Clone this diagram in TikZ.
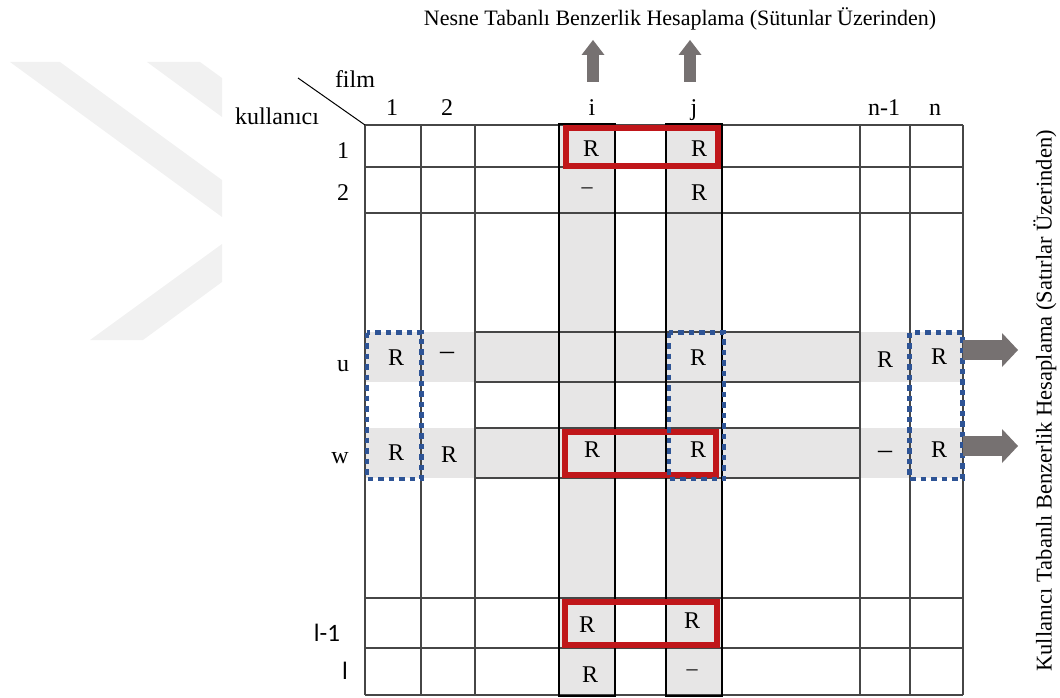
\documentclass[tikz,border=0pt]{standalone}
\usepackage{fontspec}
\setmainfont{Liberation Serif}
\newfontfamily\calfont{Carlito}
\usetikzlibrary{positioning,arrows.meta}

\definecolor{bandgray}{RGB}{231,230,230}
\definecolor{wmgray}{RGB}{241,241,241}
\definecolor{boxred}{RGB}{192,22,26}
\definecolor{dotblue}{RGB}{46,84,150}
\definecolor{arrowgray}{RGB}{118,113,113}
\definecolor{gridgray}{RGB}{70,70,70}

\tikzset{
  gridline/.style={draw=gridgray, line width=1.2pt},
  colbox/.style={draw=black, line width=2pt},
  redbox/.style={draw=boxred, line width=6pt},
  dotbox/.style={draw=dotblue, line width=4.5pt, dash pattern=on 5.5pt off 5pt},
  lbl/.style={font=\fontsize{24}{24}\selectfont, anchor=base, inner sep=0pt},
  cell/.style={lbl},
  dashcell/.style={font=\fontsize{28}{28}\selectfont, inner sep=0pt},
  smalldash/.style={font=\fontsize{22}{22}\selectfont, inner sep=0pt},
  sanslbl/.style={font=\calfont\fontsize{25}{25}\selectfont, anchor=base, inner sep=0pt},
  heading/.style={font=\fontsize{22}{22}\selectfont, anchor=base, inner sep=0pt},
  uparrow/.style={draw=arrowgray, line width=12pt, -{Triangle[width=23pt,length=15pt,line width=0pt]}},
  sidearrow/.style={draw=arrowgray, line width=20pt, -{Triangle[width=34pt,length=16pt,line width=0pt]}}
}

\begin{document}
\begin{tikzpicture}[x=1pt,y=-1pt]
  \useasboundingbox (0,0) rectangle (1060,698);

  % watermark
  \fill[wmgray] (10,62) -- (60,62) -- (222,180) -- (222,217) -- cycle;
  \fill[wmgray] (147,62) -- (200,62) -- (222,78) -- (222,117) -- cycle;
  \fill[wmgray] (90,340) -- (143,340) -- (222,282) -- (222,244) -- cycle;

  % shaded rows and columns
  \fill[bandgray] (365,332) rectangle (963,382);
  \fill[bandgray] (365,428) rectangle (963,478);
  \fill[bandgray] (559,124) rectangle (615,696);
  \fill[bandgray] (666,124) rectangle (722,696);

  % table
  \foreach \x in {365,421,475,559,615,666,722,860,910,963}
    \draw[gridline] (\x,125) -- (\x,695);
  \foreach \y in {125,167,213,598,648,695}
    \draw[gridline] (365,\y) -- (963,\y);
  \foreach \y in {332,382,428,478}
    \draw[gridline] (475,\y) -- (860,\y);
  \draw[colbox] (559,124) rectangle (615,696);
  \draw[colbox] (666,124) rectangle (722,696);

  % corner
  \coordinate (corner) at (365,125);
  \coordinate (slant) at (298,78);
  \draw[line width=1pt] (slant) -- (corner);
  \node[lbl] (film) at (355,88) {film};
  \node[lbl] (kullanici) at (277,125) {kullanıcı};

  % column labels
  \node[lbl] (c1) at (392,116) {1};
  \node[lbl] (c2) at (447,116) {2};
  \node[lbl] (ci) at (592,116) {i};
  \node[lbl] (cj) at (694,116) {j};
  \node[lbl] (cn1) at (884,116) {n-1};
  \node[lbl] (cn) at (935,116) {n};

  % row labels
  \node[lbl] (r1) at (343,158) {1};
  \node[lbl] (r2) at (343,200) {2};
  \node[lbl] (ru) at (343,371) {u};
  \node[lbl] (rw) at (340,463) {w};
  \node[sanslbl] (rl1) at (327,641) {l-1};
  \node[sanslbl] (rl) at (345,679) {l};

  % ratings
  \node[cell] (r1i) at (591,157) {R};
  \node[cell] (r1j) at (699,157) {R};
  \node[smalldash] (r2i) at (587,191) {–};
  \node[cell] (r2j) at (699,200) {R};
  \node[cell] (ru1) at (396,365) {R};
  \node[dashcell] (ru2) at (447,356) {–};
  \node[cell] (ruj) at (698,365) {R};
  \node[cell] (run1) at (885,367) {R};
  \node[cell] (run) at (939,364) {R};
  \node[cell] (rw1) at (396,460) {R};
  \node[cell] (rw2) at (449,462) {R};
  \node[cell] (rwi) at (592,457) {R};
  \node[cell] (rwj) at (698,457) {R};
  \node[dashcell] (rwn1) at (885,455) {–};
  \node[cell] (rwn) at (939,457) {R};
  \node[cell] (rl1i) at (587,632) {R};
  \node[cell] (rl1j) at (692,628) {R};
  \node[cell] (rli) at (590,682) {R};
  \node[smalldash] (rlj) at (692,673) {–};

  % item pairs
  \draw[redbox] (566,128) rectangle (718,166);
  \draw[redbox] (565,431.5) rectangle (716,475);
  \draw[redbox] (565,601.5) rectangle (717,645);

  % user pairs
  \draw[dotbox] (367,332.5) rectangle (421.5,479);
  \draw[dotbox] (669,332.5) rectangle (724,479);
  \draw[dotbox] (909.5,332.5) rectangle (962.5,479);

  % arrows
  \coordinate (ibase) at (593,82);
  \coordinate (itop) at (593,40);
  \coordinate (jbase) at (690,82);
  \coordinate (jtop) at (690,40);
  \draw[uparrow] (ibase) -- (itop);
  \draw[uparrow] (jbase) -- (jtop);
  \coordinate (ubase) at (963,350);
  \coordinate (uend) at (1018,350);
  \coordinate (wbase) at (963,446);
  \coordinate (wend) at (1018,446);
  \draw[sidearrow] (ubase) -- (uend);
  \draw[sidearrow] (wbase) -- (wend);

  % titles
  \node[heading] (itemtitle) at (680,26) {Nesne Tabanlı Benzerlik Hesaplama (Sütunlar Üzerinden)};
  \node[heading, anchor=center, rotate=90, font=\fontsize{22.5}{22.5}\selectfont] (usertitle) at (1045,401) {Kullanıcı Tabanlı Benzerlik Hesaplama (Satırlar Üzerinden)};
\end{tikzpicture}
\end{document}
